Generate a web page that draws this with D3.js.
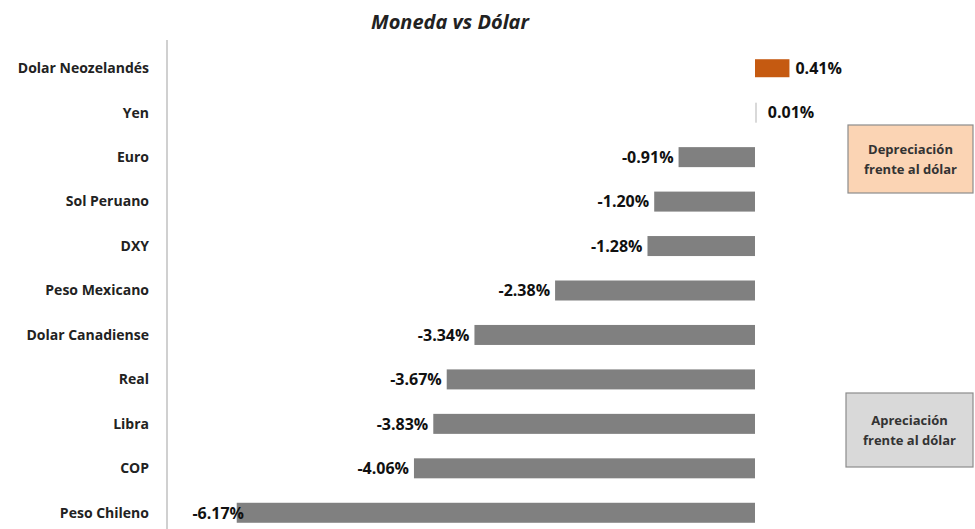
<!DOCTYPE html>
<html>
<head>
<meta charset="utf-8">
<script src="https://cdn.jsdelivr.net/npm/d3@7"></script>
<style>
  body { margin: 0; background: #fff; }
  text { font-family: "Open Sans", Lato, sans-serif; }
</style>
</head>
<body>
<div id="chart"></div>
<script>
// data, top to bottom
var categories = ["Dolar Neozelandés", "Yen", "Euro", "Sol Peruano", "DXY", "Peso Mexicano",
                  "Dolar Canadiense", "Real", "Libra", "COP", "Peso Chileno"];
var values = [0.41, 0.01, -0.91, -1.20, -1.28, -2.38, -3.34, -3.67, -3.83, -4.06, -6.17];
var title = "Moneda vs Dólar";
var boxLabels = [["Depreciación", "frente al dólar"], ["Apreciación", "frente al dólar"]];

var data = categories.map(function(c, i) { return {name: c, value: values[i]}; });

var width = 975, height = 529;

var svg = d3.select("#chart")
  .append("svg")
    .attr("width", width)
    .attr("height", height);

var x = d3.scaleLinear()
    .domain([-7, 3])
    .range([167, 1007]);

var y = d3.scaleBand()
    .domain(categories)
    .range([46, 535])
    .paddingInner(0.55)
    .paddingOuter(0.275);

var fmt = function(v) { return d3.format(".2f")(v).replace("\u2212", "-") + "%"; };

// title
svg.append("text")
    .attr("x", 450)
    .attr("y", 29)
    .attr("text-anchor", "middle")
    .style("font-size", "20px")
    .style("font-weight", "bold")
    .style("font-style", "italic")
    .style("fill", "#222")
    .text(title);

// category axis line
svg.append("line")
    .attr("x1", x(-7)).attr("x2", x(-7))
    .attr("y1", 40).attr("y2", height)
    .attr("stroke", "#d0d0d0")
    .attr("stroke-width", 2);

// category labels
svg.append("g")
  .selectAll("text")
  .data(data)
  .enter()
  .append("text")
    .attr("x", 149)
    .attr("y", function(d) { return y(d.name) + y.bandwidth() / 2; })
    .attr("dy", "0.35em")
    .attr("text-anchor", "end")
    .style("font-size", "14px")
    .style("font-weight", "bold")
    .style("fill", "#222")
    .text(function(d) { return d.name; });

// bars
svg.append("g")
  .selectAll("rect")
  .data(data)
  .enter()
  .append("rect")
    .attr("x", function(d) { return x(Math.min(0, d.value)); })
    .attr("y", function(d) { return d.value > 0.1 ? y(d.name) + 1 : y(d.name); })
    .attr("width", function(d) { return Math.max(2, Math.abs(x(d.value) - x(0))); })
    .attr("height", function(d) { return d.value > 0.1 ? y.bandwidth() - 2 : y.bandwidth(); })
    .style("fill", function(d) {
      if (d.value > 0.1) return "#C55A11";
      if (d.value >= 0) return "#d9d9d9";
      return "#808080";
    });

// value labels
svg.append("g")
  .selectAll("text")
  .data(data)
  .enter()
  .append("text")
    .attr("x", function(d) {
      if (d.value >= 0) return x(d.value) + (d.value > 0.1 ? 6 : 12);
      return Math.max(x(d.value) - 5, 244);
    })
    .attr("y", function(d) { return y(d.name) + y.bandwidth() / 2; })
    .attr("dy", "0.36em")
    .attr("text-anchor", function(d) { return d.value >= 0 ? "start" : "end"; })
    .style("font-size", "16px")
    .style("font-weight", "bold")
    .style("fill", "#111")
    .text(function(d) { return fmt(d.value); });

// annotation boxes
var boxes = [
  {lines: boxLabels[0], x: 848, y: 125, w: 125, h: 68, fill: "#FBD4B4"},
  {lines: boxLabels[1], x: 846, y: 393, w: 127, h: 74, fill: "#D9D9D9"}
];

var box = svg.append("g")
  .selectAll("g")
  .data(boxes)
  .enter()
  .append("g");

box.append("rect")
    .attr("x", function(d) { return d.x; })
    .attr("y", function(d) { return d.y; })
    .attr("width", function(d) { return d.w; })
    .attr("height", function(d) { return d.h; })
    .style("fill", function(d) { return d.fill; })
    .style("stroke", "#8c8c8c")
    .style("stroke-width", 1.2);

box.each(function(d) {
  var g = d3.select(this);
  d.lines.forEach(function(t, i) {
    g.append("text")
      .attr("x", d.x + d.w / 2)
      .attr("y", d.y + d.h / 2 + (i - 0.5) * 20)
      .attr("dy", "0.35em")
      .attr("text-anchor", "middle")
      .style("font-size", "13px")
      .style("font-weight", "bold")
      .style("fill", "#333")
      .text(t);
  });
});
</script>
</body>
</html>
